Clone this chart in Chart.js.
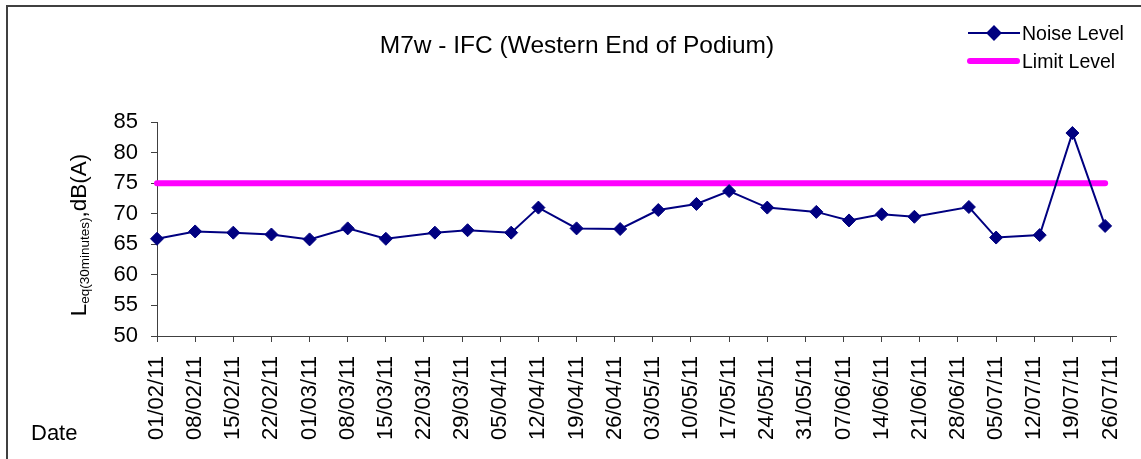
<!DOCTYPE html>
<html>
<head>
<meta charset="utf-8">
<script src="https://cdn.jsdelivr.net/npm/chart.js@4/dist/chart.umd.min.js"></script>
<style>
  html, body { margin: 0; padding: 0; background: #ffffff; }
  #wrap { width: 1141px; height: 459px; position: relative; }
</style>
</head>
<body>
<div id="wrap"><canvas id="c" width="1141" height="459"></canvas></div>
<script>
const chartTitle = 'M7w - IFC (Western End of Podium)';
const seriesNames = ['Noise Level', 'Limit Level'];
const tickLabels = ['01/02/11','08/02/11','15/02/11','22/02/11','01/03/11','08/03/11','15/03/11','22/03/11','29/03/11','05/04/11','12/04/11','19/04/11','26/04/11','03/05/11','10/05/11','17/05/11','24/05/11','31/05/11','07/06/11','14/06/11','21/06/11','28/06/11','05/07/11','12/07/11','19/07/11','26/07/11'];
const noiseDates = ['01/02/11','08/02/11','15/02/11','22/02/11','01/03/11','08/03/11','15/03/11','24/03/11','30/03/11','07/04/11','12/04/11','19/04/11','27/04/11','04/05/11','11/05/11','17/05/11','24/05/11','02/06/11','08/06/11','14/06/11','20/06/11','30/06/11','05/07/11','13/07/11','19/07/11','25/07/11'];
const noiseValues = [65.9, 67.1, 66.9, 66.6, 65.8, 67.6, 65.9, 66.9, 67.3, 66.9, 71.0, 67.6, 67.5, 70.6, 71.6, 73.7, 71.0, 70.3, 68.9, 69.9, 69.5, 71.1, 66.1, 66.5, 83.2, 68.0];
const limitDates = ['01/02/11', '25/07/11'];
const limitValues = [75, 75];
const yTicks = [50, 55, 60, 65, 70, 75, 80, 85];

const FONT = "'Liberation Sans', Arial, sans-serif";
const toDay = s => {
  const p = s.split('/').map(Number);
  return (Date.UTC(2000 + p[2], p[1] - 1, p[0]) - Date.UTC(2011, 1, 1)) / 86400000;
};

const decor = {
  id: 'decor',
  beforeDraw(chart) {
    const ctx = chart.ctx;
    ctx.save();
    ctx.fillStyle = '#ffffff';
    ctx.fillRect(0, 0, chart.width, chart.height);
    ctx.restore();
  },
  afterDraw(chart) {
    const ctx = chart.ctx;
    ctx.save();
    // outer frame
    ctx.strokeStyle = '#404040';
    ctx.lineWidth = 2;
    ctx.strokeRect(7, 6, 1300, 600);
    // title
    ctx.fillStyle = '#000';
    ctx.font = '24.5px ' + FONT;
    ctx.textAlign = 'center';
    ctx.textBaseline = 'alphabetic';
    ctx.fillText(chartTitle, 577, 53);
    // legend
    const ds = chart.data.datasets;
    const rows = [33, 61];
    ctx.textAlign = 'left';
    ctx.font = '19.5px ' + FONT;
    ds.forEach((d, i) => {
      const y = rows[i];
      ctx.strokeStyle = d.borderColor;
      ctx.lineWidth = d.borderWidth;
      ctx.lineCap = d.borderCapStyle || 'butt';
      ctx.beginPath();
      ctx.moveTo(i === 1 ? 970 : 968, y);
      ctx.lineTo(i === 1 ? 1017 : 1020, y);
      ctx.stroke();
      if (d.pointRadius > 0) {
        Chart.helpers.drawPoint(ctx, {
          pointStyle: d.pointStyle, radius: d.pointRadius, borderWidth: d.pointBorderWidth
        }, 994, y);
        ctx.fillStyle = d.pointBackgroundColor;
        ctx.fill();
        ctx.strokeStyle = d.pointBorderColor;
        ctx.lineWidth = d.pointBorderWidth;
        ctx.stroke();
      }
      ctx.fillStyle = '#000';
      ctx.fillText(d.label, 1022, y + 7);
    });
    // y axis title with subscript
    const area = chart.chartArea;
    const cy = (area.top + area.bottom) / 2 + 6;
    const mainF = '22.5px ' + FONT, subF = '13.5px ' + FONT;
    const parts = [['L', mainF, 0], ['eq(30minutes)', subF, 3], [',dB(A)', mainF, 0]];
    let total = 0;
    parts.forEach(p => { ctx.font = p[1]; p.push(ctx.measureText(p[0]).width); total += p[3]; });
    ctx.translate(86, cy + total / 2);
    ctx.rotate(-Math.PI / 2);
    ctx.fillStyle = '#000';
    let u = 0;
    parts.forEach(p => { ctx.font = p[1]; ctx.fillText(p[0], u, p[2]); u += p[3]; });
    ctx.setTransform(1, 0, 0, 1, 0, 0);
    // x axis title
    ctx.font = '22px ' + FONT;
    ctx.textAlign = 'left';
    ctx.fillText('Date', 31, 440);
    ctx.restore();
  }
};

new Chart(document.getElementById('c'), {
  type: 'line',
  data: {
    datasets: [
      {
        label: seriesNames[0],
        data: noiseDates.map((d, i) => ({ x: toDay(d), y: noiseValues[i] })),
        borderColor: '#000080',
        backgroundColor: '#000080',
        borderWidth: 2,
        pointStyle: 'rectRot',
        pointRadius: 6.5,
        pointBackgroundColor: '#000080',
        pointBorderColor: '#000080',
        pointBorderWidth: 1,
        tension: 0,
        clip: false
      },
      {
        label: seriesNames[1],
        data: limitDates.map((d, i) => ({ x: toDay(d), y: limitValues[i] })),
        borderColor: '#ff00ff',
        backgroundColor: '#ff00ff',
        borderWidth: 6,
        borderCapStyle: 'round',
        pointRadius: 0,
        tension: 0,
        clip: false
      }
    ]
  },
  options: {
    responsive: false,
    animation: false,
    events: [],
    layout: { padding: { left: 0, top: 122, right: 25, bottom: 0 } },
    plugins: { legend: { display: false }, tooltip: { enabled: false }, title: { display: false } },
    scales: {
      x: {
        type: 'linear',
        min: 0,
        max: 176,
        afterBuildTicks: s => { s.ticks = tickLabels.map(t => ({ value: toDay(t) })); },
        afterFit: s => { s.height = 123; s.paddingLeft = 0; s.paddingRight = 0; },
        border: { display: true, color: '#404040', width: 1 },
        grid: { drawOnChartArea: false, drawTicks: true, tickLength: 6, color: '#404040' },
        ticks: {
          autoSkip: false,
          minRotation: 90,
          maxRotation: 90,
          padding: 14,
          color: '#000',
          font: { family: FONT, size: 22 },
          callback: (v, i) => tickLabels[i]
        }
      },
      y: {
        min: 50,
        max: 85,
        afterBuildTicks: s => { s.ticks = yTicks.map(v => ({ value: v })); },
        afterFit: s => { s.width = 157; s.paddingTop = 0; s.paddingBottom = 0; },
        border: { display: true, color: '#404040', width: 1 },
        grid: { drawOnChartArea: false, drawTicks: true, tickLength: 6, color: '#404040' },
        ticks: {
          padding: 13,
          color: '#000',
          font: { family: FONT, size: 22 },
          callback: v => String(v)
        }
      }
    }
  },
  plugins: [decor]
});
</script>
</body>
</html>
